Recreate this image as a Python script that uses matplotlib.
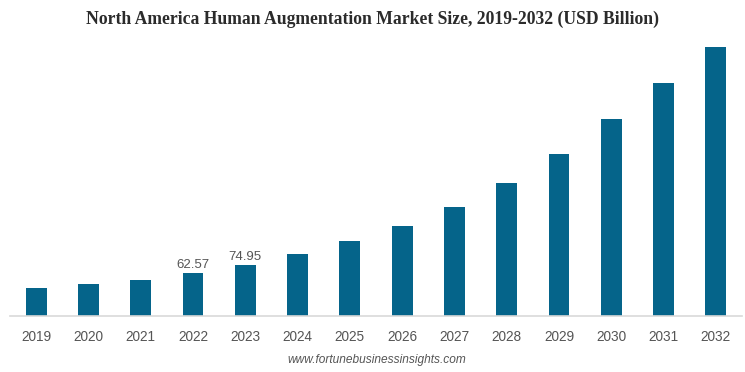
import matplotlib
matplotlib.use("Agg")
import matplotlib.pyplot as plt

years = ["2019", "2020", "2021", "2022", "2023", "2024", "2025", "2026",
         "2027", "2028", "2029", "2030", "2031", "2032"]
values = [41.3, 46.3, 53.0, 62.57, 74.95, 91.0, 109.0, 132.0,
          159.6, 194.0, 236.5, 288.0, 340.0, 392.7]
labelled = {"2022": "62.57", "2023": "74.95"}

fig = plt.figure(figsize=(7.45, 3.72), dpi=100)
ax = fig.add_axes([10/745, 56/372, 732/745, (316-40)/372])
x = list(range(len(years)))
ax.bar(x, values, width=0.40, color="#05648a")
ax.set_xlim(-0.5, len(years)-0.5)
ax.set_ylim(0, 403)
ax.set_xticks(x)
ax.set_xticklabels(years, fontsize=9.8, color="#555555", family="Liberation Sans")
ax.tick_params(axis="x", length=0, pad=10)
ax.set_yticks([])
for s in ["top", "right", "left"]:
    ax.spines[s].set_visible(False)
ax.spines["bottom"].set_color("#d9d9d9")
ax.spines["bottom"].set_linewidth(1.2)

for i, y in enumerate(years):
    if y in labelled:
        ax.text(i, values[i] + 3, labelled[y], ha="center", va="bottom",
                fontsize=9.5, color="#555555", family="Liberation Sans")

fig.text(0.5, 1 - 19/372, "North America Human Augmentation Market Size, 2019-2032 (USD Billion)",
         ha="center", va="center", fontsize=12.7, fontweight="bold",
         family="Liberation Serif", color="#2b2b2b")
fig.text(377/745, 1 - 360/372, "www.fortunebusinessinsights.com", ha="center", va="center",
         fontsize=8.6, style="italic", color="#555555", family="Liberation Sans")

fig.savefig("out.png", dpi=100)
